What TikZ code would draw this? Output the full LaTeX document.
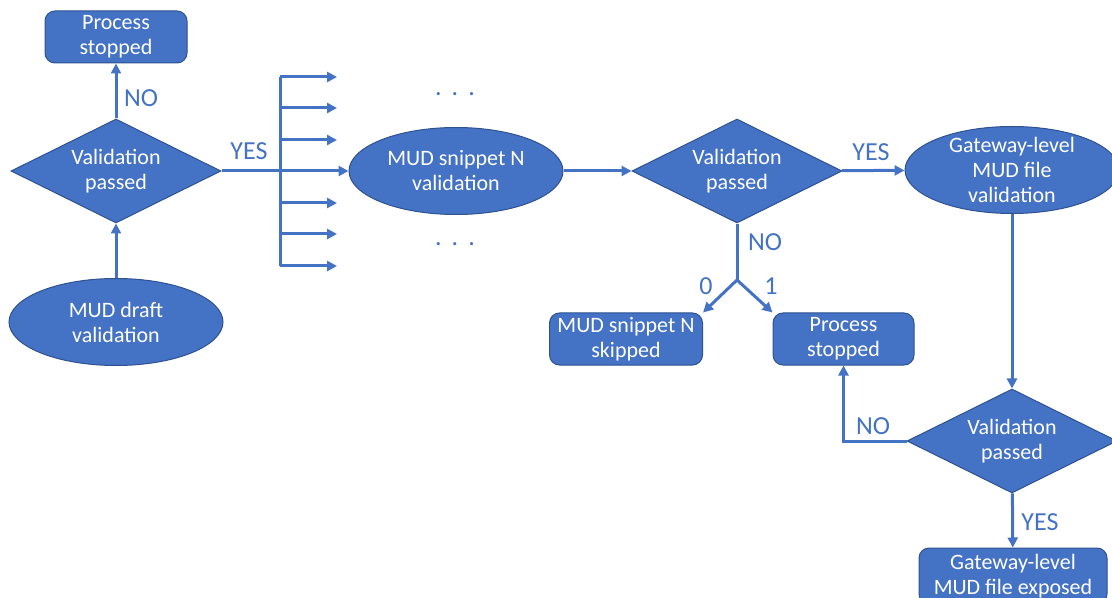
\documentclass[tikz,border=0pt]{standalone}
\usepackage{fontspec}
\setmainfont{Carlito}
\usetikzlibrary{shapes.geometric,arrows.meta}
\definecolor{mudblue}{HTML}{4472C4}
\definecolor{mudedge}{HTML}{2F528F}
\tikzset{
	shape base/.style={fill=mudblue,draw=mudedge,line width=0.5pt,text=white,align=center,
		font=\fontsize{11}{12.5}\selectfont,inner sep=0pt},
	stopbox/.style={shape base,rectangle,rounded corners=5pt,minimum height=26pt},
	check/.style={shape base,diamond,aspect=2,minimum width=105pt,minimum height=52pt},
	oval/.style={shape base,ellipse,minimum width=107pt,minimum height=43.5pt},
	flow/.style={draw=mudblue,line width=1.5pt,-{Triangle[length=5pt,width=5pt]}},
	link/.style={draw=mudblue,line width=1.5pt},
	answer/.style={text=mudblue,font=\fontsize{13}{15}\selectfont,inner sep=0pt}
}
\begin{document}
\begin{tikzpicture}[x=0.5pt,y=-0.5pt]
	\useasboundingbox (0,0) rectangle (1112,598);
	\node[stopbox,minimum width=71pt] (stopA) at (116,37) {Process\\stopped};
	\node[check] (checkA) at (116,171) {Validation\\passed};
	\node[oval] (draft) at (116,322) {MUD draft\\validation};
	\node[oval] (snippet) at (456,171) {MUD snippet N\\validation};
	\node[check] (checkB) at (737,171) {Validation\\passed};
	\node[oval,inner ysep=-4pt] (gwcheck) at (1012,170) {Gateway-level\\MUD file\\validation};
	\node[stopbox,minimum width=76.5pt] (skip) at (626,339) {MUD snippet N\\skipped};
	\node[stopbox,minimum width=70.5pt] (stopB) at (843.5,339) {Process\\stopped};
	\node[check] (checkC) at (1012,441) {Validation\\passed};
	\node[stopbox,minimum width=94pt,minimum height=28pt] (expose) at (1013,576) {Gateway-level\\MUD file exposed};
	\coordinate (fork) at (737,280);
	\coordinate (busTop) at (280,77);
	\coordinate (busBot) at (280,266);
	
	\draw[flow] (draft) -- (checkA);
	\draw[flow] (checkA) -- (stopA);
	\draw[flow] (checkA) -- (snippet);
	\draw[link] (busTop) -- (busBot);
	\foreach \y in {77,108,140,203,234,266}
		\draw[flow] (280,\y) -- ++(57,0);
	\draw[flow] (snippet) -- (checkB);
	\draw[flow] (checkB) -- (gwcheck);
	\draw[link] (checkB) -- (fork);
	\draw[flow] (fork) -- (skip.north east);
	\draw[flow] (fork) -- (stopB.north west);
	\draw[flow] (gwcheck) -- (checkC);
	\draw[flow] (checkC.west) -| (stopB.south);
	\draw[flow] (checkC) -- (expose);
	
	\node[answer] (noA) at (141,98) {NO};
	\node[answer] (yesA) at (249,151) {YES};
	\node[answer] (dotsA) at (455,94) {.\hspace{5pt}.\hspace{5pt}.};
	\node[answer] (dotsB) at (455,244) {.\hspace{5pt}.\hspace{5pt}.};
	\node[answer] (noB) at (765,242) {NO};
	\node[answer] (zero) at (706,286) {0};
	\node[answer] (one) at (771,286) {1};
	\node[answer] (yesB) at (871,152) {YES};
	\node[answer] (noC) at (873,426) {NO};
	\node[answer] (yesC) at (1040,522) {YES};
\end{tikzpicture}
\end{document}
